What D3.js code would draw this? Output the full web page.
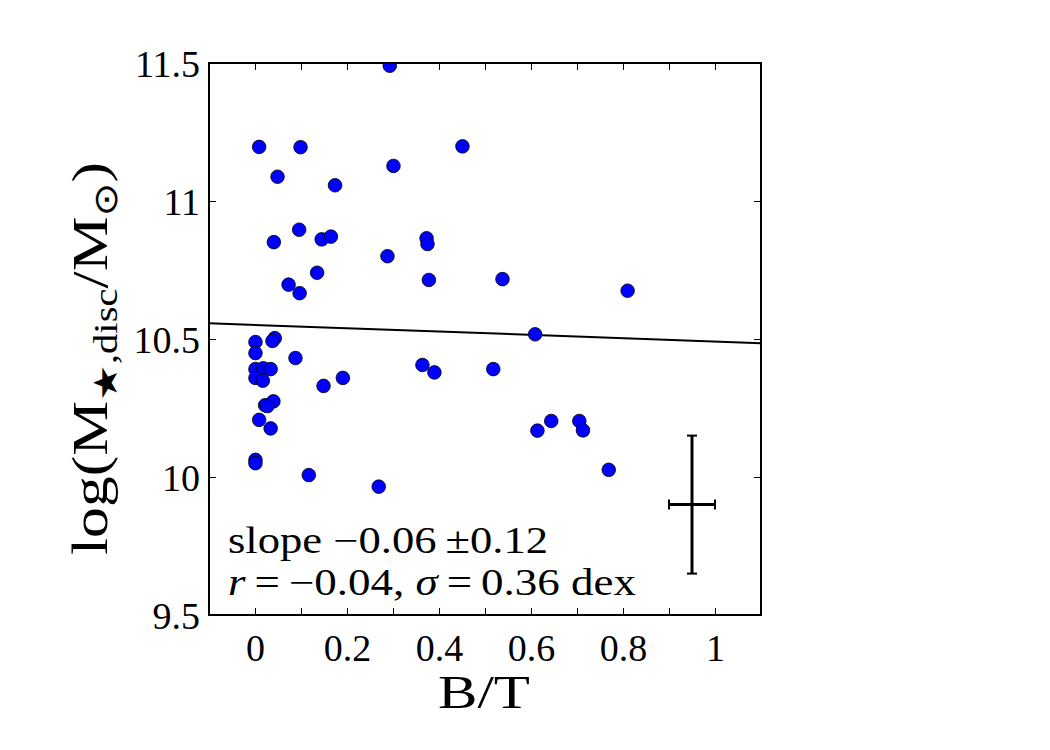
<!DOCTYPE html>
<html>
<head>
<meta charset="utf-8">
<script src="https://cdn.jsdelivr.net/npm/d3@7"></script>
<style>
  body { margin: 0; background: #fff; }
  text { font-family: "Liberation Serif", "DejaVu Serif", serif; fill: #000; }
</style>
</head>
<body>
<div id="chart-area"></div>
<script>
// data
var bt = [0.293, 0.009, 0.099, 0.451, 0.301, 0.049, 0.174, 0.096, 0.041, 0.145,
          0.165, 0.373, 0.375, 0.288, 0.135, 0.073, 0.097, 0.378, 0.538, 0.810,
          0.609, 0.001, 0.043, 0.038, 0.001, 0.088, 0.001, 0.018, 0.034, 0.001,
          0.017, 0.149, 0.191, 0.364, 0.390, 0.518, 0.040, 0.022, 0.027, 0.009,
          0.034, 0.001, 0.001, 0.117, 0.269, 0.614, 0.644, 0.705, 0.713, 0.769];
var logM = [11.49, 11.196, 11.195, 11.198, 11.127, 11.088, 11.057, 10.896, 10.851, 10.861,
            10.871, 10.865, 10.844, 10.80, 10.74, 10.697, 10.666, 10.714, 10.717, 10.675,
            10.517, 10.489, 10.503, 10.493, 10.449, 10.431, 10.391, 10.394, 10.391, 10.359,
            10.349, 10.330, 10.359, 10.406, 10.379, 10.391, 10.274, 10.26, 10.257, 10.207,
            10.176, 10.062, 10.05, 10.007, 9.965, 10.168, 10.203, 10.203, 10.169, 10.026];

var fitSlope = -0.06, fitIntercept = 10.551;
var errX = 0.95, errY = 9.9, errDx = 0.05, errDy = 0.25;

var xTicks = [0, 0.1, 0.2, 0.3, 0.4, 0.5, 0.6, 0.7, 0.8, 0.9, 1];
var xLabels = {0: "0", 0.2: "0.2", 0.4: "0.4", 0.6: "0.6", 0.8: "0.8", 1: "1"};
var yTicks = [9.5, 10, 10.5, 11, 11.5];
var yLabels = ["9.5", "10", "10.5", "11", "11.5"];

var width = 1050, height = 750;
var plot = {left: 209, right: 761, top: 63, bottom: 615};

var svg = d3.select("#chart-area").append("svg")
    .attr("width", width)
    .attr("height", height);

var x = d3.scaleLinear().domain([-0.1, 1.1]).range([plot.left, plot.right]);
var y = d3.scaleLinear().domain([9.5, 11.5]).range([plot.bottom, plot.top]);

svg.append("clipPath").attr("id", "clip")
  .append("rect")
    .attr("x", plot.left).attr("y", plot.top)
    .attr("width", plot.right - plot.left).attr("height", plot.bottom - plot.top);

// axes, ticks pointing inwards
var tickLen = 7;
var xAxis = d3.axisBottom(x).tickValues(xTicks).tickSizeInner(-tickLen).tickSizeOuter(0)
    .tickPadding(19).tickFormat(d => xLabels[d] || "");
var xAxisTop = d3.axisTop(x).tickValues(xTicks).tickSizeInner(-tickLen).tickSizeOuter(0).tickFormat("");
var yAxis = d3.axisLeft(y).tickValues(yTicks).tickSizeInner(-tickLen).tickSizeOuter(0)
    .tickPadding(9).tickFormat((d, i) => yLabels[i]);
var yAxisRight = d3.axisRight(y).tickValues(yTicks).tickSizeInner(-tickLen).tickSizeOuter(0).tickFormat("");

function styleAxis(g) {
  g.select(".domain").remove();
  g.selectAll(".tick line").attr("stroke", "#000").attr("stroke-width", 1);
  g.selectAll(".tick text").attr("font-size", 38).attr("font-family", "Liberation Serif");
}

svg.append("g").attr("transform", "translate(0," + plot.bottom + ")").call(xAxis).call(styleAxis);
svg.append("g").attr("transform", "translate(0," + plot.top + ")").call(xAxisTop).call(styleAxis);
svg.append("g").attr("transform", "translate(" + plot.left + ",0)").call(yAxis).call(styleAxis)
  .selectAll(".tick text").attr("dy", "0.35em");
svg.append("g").attr("transform", "translate(" + plot.right + ",0)").call(yAxisRight).call(styleAxis);

// fit line
var line = d3.line().x(d => x(d)).y(d => y(fitIntercept + fitSlope * d));
svg.append("path")
    .datum([-0.1, 1.1])
    .attr("clip-path", "url(#clip)")
    .attr("d", line)
    .attr("fill", "none")
    .attr("stroke", "#000")
    .attr("stroke-width", 2);

// points
svg.append("g").attr("clip-path", "url(#clip)")
  .selectAll("circle")
  .data(bt.map((d, i) => [d, logM[i]]))
  .enter()
  .append("circle")
    .attr("cx", d => x(d[0]))
    .attr("cy", d => y(d[1]))
    .attr("r", 6.8)
    .attr("fill", "#0000ff")
    .attr("stroke", "#000")
    .attr("stroke-width", 0.8);

// typical error bar
var cap = 5;
var eb = svg.append("g").attr("stroke", "#000").attr("stroke-width", 3);
eb.append("line").attr("x1", x(errX)).attr("x2", x(errX)).attr("y1", y(errY - errDy)).attr("y2", y(errY + errDy));
eb.append("line").attr("x1", x(errX - errDx)).attr("x2", x(errX + errDx)).attr("y1", y(errY)).attr("y2", y(errY));
eb.append("line").attr("x1", x(errX) - cap).attr("x2", x(errX) + cap).attr("y1", y(errY - errDy)).attr("y2", y(errY - errDy)).attr("stroke-width", 2);
eb.append("line").attr("x1", x(errX) - cap).attr("x2", x(errX) + cap).attr("y1", y(errY + errDy)).attr("y2", y(errY + errDy)).attr("stroke-width", 2);
eb.append("line").attr("x1", x(errX - errDx)).attr("x2", x(errX - errDx)).attr("y1", y(errY) - cap).attr("y2", y(errY) + cap).attr("stroke-width", 2);
eb.append("line").attr("x1", x(errX + errDx)).attr("x2", x(errX + errDx)).attr("y1", y(errY) - cap).attr("y2", y(errY) + cap).attr("stroke-width", 2);

// frame
svg.append("rect")
    .attr("x", plot.left).attr("y", plot.top)
    .attr("width", plot.right - plot.left).attr("height", plot.bottom - plot.top)
    .attr("fill", "none").attr("stroke", "#000").attr("stroke-width", 2);

// annotation
var ann = svg.append("g").attr("font-size", 37);
ann.append("text").attr("x", 228).attr("y", 553)
    .attr("textLength", 320).attr("lengthAdjust", "spacingAndGlyphs")
    .text("slope \u22120.06\u2009\u00b10.12");
var t2 = ann.append("text").attr("x", 228).attr("y", 595)
    .attr("textLength", 408).attr("lengthAdjust", "spacingAndGlyphs");
t2.append("tspan").attr("font-style", "italic").text("r");
t2.append("tspan").text("\u2009=\u2009\u22120.04, ");
t2.append("tspan").attr("font-style", "italic").text("\u03c3");
t2.append("tspan").text("\u2009=\u20090.36 dex");

// axis titles
svg.append("text")
    .attr("x", 438)
    .attr("y", 708)
    .attr("font-size", 46)
    .attr("textLength", 92).attr("lengthAdjust", "spacingAndGlyphs")
    .text("B/T");

var yl = svg.append("text")
    .attr("transform", "translate(107,555) rotate(-90)")
    .attr("font-size", 50)
    .attr("textLength", 393).attr("lengthAdjust", "spacingAndGlyphs");
yl.append("tspan").text("log(M");
yl.append("tspan").attr("font-size", 33).attr("dy", 10).text("\u2605,disc");
yl.append("tspan").attr("dy", -10).text("/M");
yl.append("tspan").attr("font-size", 33).attr("dy", 10).attr("font-family", "DejaVu Sans").text("\u2299");
yl.append("tspan").attr("dy", -10).text(")");
</script>
</body>
</html>
